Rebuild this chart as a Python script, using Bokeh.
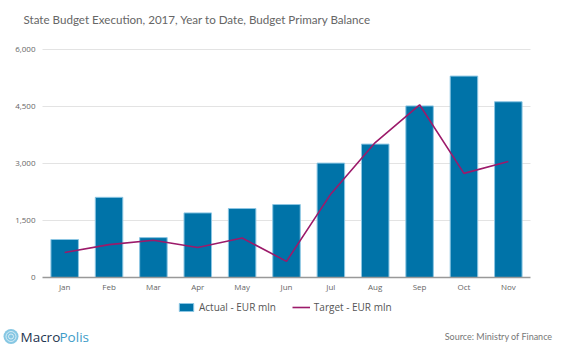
import numpy as np
from bokeh.plotting import figure
from bokeh.models import (ColumnDataSource, Range1d, Legend, LegendItem, Label,
                          NumeralTickFormatter, FixedTicker)
from bokeh.embed import file_html
from bokeh.resources import INLINE

months = ["Jan", "Feb", "Mar", "Apr", "May", "Jun", "Jul", "Aug", "Sep", "Oct", "Nov"]
actual = [1000, 2110, 1050, 1700, 1815, 1920, 3010, 3510, 4515, 5300, 4625]
target = [660, 865, 980, 790, 1040, 425, 2200, 3550, 4545, 2740, 3055]
y_ticks = [0, 1500, 3000, 4500, 6000]
y_max = 6000

title_text = "State Budget Execution, 2017, Year to Date, Budget Primary Balance"
source_text = "Source: Ministry of Finance"
logo_parts = ["Macro", "Polis"]

# ---- layout (pixels) ----
W, H = 554, 344
PLOT_L, PLOT_R = 42, 530      # horizontal extent of the category area
PLOT_T, PLOT_B = 49, 277      # vertical extent of 0..y_max

n = len(months)
px_per_cat = (PLOT_R - PLOT_L) / n
val_per_px = y_max / (PLOT_B - PLOT_T)
x_range = Range1d(-PLOT_L / px_per_cat, (W - PLOT_L) / px_per_cat)
y_range = Range1d(-(H - PLOT_B) * val_per_px, y_max + PLOT_T * val_per_px)

xpos = np.arange(n) + 0.5
src = ColumnDataSource(dict(x=xpos, month=months, actual=actual, target=target))

p = figure(width=W, height=H, output_backend="svg", toolbar_location=None,
           x_range=x_range, y_range=y_range,
           min_border=0, min_border_left=0, min_border_right=0,
           min_border_top=0, min_border_bottom=0)
p.outline_line_color = None
p.border_fill_color = "white"
p.grid.visible = False

# horizontal gridlines across the category area
grid_src = ColumnDataSource(dict(y=[t for t in y_ticks if t > 0],
                                 x0=[0] * (len(y_ticks) - 1), x1=[n] * (len(y_ticks) - 1)))
p.segment(x0="x0", x1="x1", y0="y", y1="y", source=grid_src,
          line_color="#e3e3e3", line_width=1)

bars = p.vbar(x="x", top="actual", width=0.62, source=src,
              fill_color="#0073A8", line_color="#8cc6e3", line_width=1)
line = p.line(x="x", y="target", source=src, line_color="#9C1A6A", line_width=1.6)

yax = p.yaxis[0]
yax.fixed_location = 0
yax.ticker = FixedTicker(ticks=y_ticks)
yax.formatter = NumeralTickFormatter(format="0,0")
yax.axis_line_color = None
yax.major_tick_line_color = None
yax.minor_tick_line_color = None
yax.major_tick_out = 0
yax.major_label_standoff = 7
yax.major_label_text_font = "Open Sans"
yax.major_label_text_font_size = "8px"
yax.major_label_text_color = "#666666"

xax = p.xaxis[0]
xax.fixed_location = 0
xax.bounds = (0, n)
xax.ticker = FixedTicker(ticks=list(xpos))
xax.major_label_overrides = {float(x): m for x, m in zip(xpos, months)}
xax.axis_line_color = "#999999"
xax.axis_line_width = 1.5
xax.major_tick_line_color = None
xax.minor_tick_line_color = None
xax.major_tick_out = 0
xax.major_label_standoff = 3
xax.major_label_text_font = "Open Sans"
xax.major_label_text_font_size = "8px"
xax.major_label_text_color = "#666666"

legend = Legend(items=[LegendItem(label="Actual - EUR mln", renderers=[bars]),
                       LegendItem(label="Target - EUR mln", renderers=[line])],
                location=(177, 30), orientation="horizontal",
                padding=0, margin=0, spacing=16, label_standoff=4,
                glyph_width=18, glyph_height=10,
                border_line_color=None, background_fill_alpha=0,
                label_text_font="Open Sans", label_text_font_size="10px",
                label_text_color="#555555")
p.add_layout(legend, "center")

p.add_layout(Label(x=23, y=H - 19, x_units="screen", y_units="screen", text=title_text,
                   text_font="Lato", text_font_size="11.6px", text_color="#666666",
                   text_baseline="middle", text_align="left"))

# logo
logo_x = (10.5 - PLOT_L) / px_per_cat
logo_y = (PLOT_B - 336) * val_per_px
p.scatter(x=[logo_x], y=[logo_y], size=15, marker="circle", fill_color="#86c7e3", line_color=None)
p.scatter(x=[logo_x], y=[logo_y], size=10, marker="circle", fill_color=None,
          line_color="white", line_width=0.8, line_alpha=0.8)
p.scatter(x=[logo_x], y=[logo_y], size=5, marker="circle", fill_color=None,
          line_color="white", line_width=0.8, line_alpha=0.8)
p.add_layout(Label(x=20, y=H - 336, x_units="screen", y_units="screen", text=logo_parts[0],
                   text_font="Open Sans", text_font_size="13.5px", text_color="#1e3550",
                   text_baseline="middle", text_align="left"))
p.add_layout(Label(x=59, y=H - 336, x_units="screen", y_units="screen", text=logo_parts[1],
                   text_font="Open Sans", text_font_size="13.5px", text_color="#3d9cc8",
                   text_baseline="middle", text_align="left"))

p.add_layout(Label(x=552, y=H - 336, x_units="screen", y_units="screen", text=source_text,
                   text_font="Lato", text_font_size="9px", text_color="#777777",
                   text_baseline="middle", text_align="right"))

open("out.html", "w").write(file_html(p, INLINE))
